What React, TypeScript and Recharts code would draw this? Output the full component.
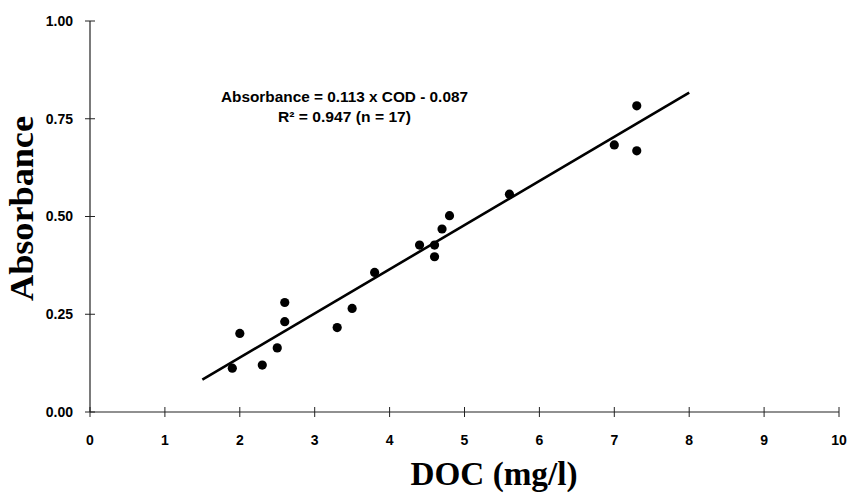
import React from 'react';
import { ScatterChart, Scatter, XAxis, YAxis, ReferenceLine } from 'recharts';

// DOC (mg/l) values of the samples
const docValues = [1.9, 2.0, 2.3, 2.5, 2.6, 2.6, 3.3, 3.5, 3.8, 4.4, 4.6, 4.6, 4.7, 4.8, 5.6, 7.0, 7.3, 7.3];
// Absorbance values of the samples
const absorbanceValues = [0.112, 0.201, 0.12, 0.164, 0.28, 0.231, 0.216, 0.265, 0.357, 0.427, 0.427, 0.397, 0.468, 0.502, 0.557, 0.683, 0.783, 0.668];

const xTicks = [0, 1, 2, 3, 4, 5, 6, 7, 8, 9, 10];
const yTicks = [0, 0.25, 0.5, 0.75, 1.0];

// Regression line as printed on the chart
const slope = 0.113;
const intercept = -0.087;
const fitStart = 1.5;
const fitEnd = 8;

const equationLine1 = 'Absorbance = 0.113 x COD - 0.087';
const equationLine2 = 'R\u00B2 = 0.947 (n = 17)';
const xTitle = 'DOC (mg/l)';
const yTitle = 'Absorbance';

const points = docValues.map((x, i) => ({ x, y: absorbanceValues[i] }));
const fitSegment = [
  { x: fitStart, y: slope * fitStart + intercept },
  { x: fitEnd, y: slope * fitEnd + intercept },
];

const TICK_SIZE = 5;
const X_TICK_MARGIN = 18;
const Y_TICK_MARGIN = 12;
const SANS = '"Liberation Sans", Arial, sans-serif';
const SERIF = '"Liberation Serif", "Times New Roman", serif';
const AXIS_COLOR = '#222';

const XTick = (props: any) => {
  const { x, y, payload } = props;
  const axisY = y - TICK_SIZE - X_TICK_MARGIN;
  return (
    <g>
      <line x1={x} x2={x} y1={axisY - 5} y2={axisY + 5} stroke={AXIS_COLOR} strokeWidth={1} />
      <text x={x} y={y} dy="0.71em" textAnchor="middle" fontFamily={SANS} fontWeight="bold" fontSize={14} fill="#000">
        {payload.value}
      </text>
    </g>
  );
};

const YTick = (props: any) => {
  const { x, y, payload } = props;
  const axisX = x + TICK_SIZE + Y_TICK_MARGIN;
  return (
    <g>
      <line x1={axisX - 5} x2={axisX + 5} y1={y} y2={y} stroke={AXIS_COLOR} strokeWidth={1} />
      <text x={x} y={y} dy="0.355em" textAnchor="end" fontFamily={SANS} fontWeight="bold" fontSize={14} fill="#000">
        {Number(payload.value).toFixed(2)}
      </text>
    </g>
  );
};

const Dot = (props: any) => {
  const { cx, cy } = props;
  return <circle cx={cx} cy={cy} r={4.6} fill="#000" />;
};

export default function App() {
  return (
    <div style={{ position: 'absolute', left: 0, top: 0, width: 848, height: 502, background: '#fff' }}>
      <ScatterChart width={848} height={502} margin={{ top: 21, right: 9, bottom: 0, left: 0 }}>
        <XAxis
          type="number"
          dataKey="x"
          domain={[0, 10]}
          ticks={xTicks}
          interval={0}
          height={90}
          tickSize={TICK_SIZE}
          tickMargin={X_TICK_MARGIN}
          tickLine={false}
          tick={<XTick />}
          axisLine={{ stroke: AXIS_COLOR, strokeWidth: 1.2 }}
        />
        <YAxis
          type="number"
          dataKey="y"
          domain={[0, 1]}
          ticks={yTicks}
          interval={0}
          width={90}
          tickSize={TICK_SIZE}
          tickMargin={Y_TICK_MARGIN}
          tickLine={false}
          tick={<YTick />}
          axisLine={{ stroke: AXIS_COLOR, strokeWidth: 1.2 }}
        />
        <ReferenceLine
          segment={fitSegment}
          stroke="#000"
          strokeWidth={2.6}
          ifOverflow="visible"
        />
        <Scatter data={points} shape={<Dot />} isAnimationActive={false} />
      </ScatterChart>
      <svg
        width={848}
        height={502}
        style={{ position: 'absolute', left: 0, top: 0, pointerEvents: 'none' }}
      >
        <text x={344.5} y={102} textAnchor="middle" fontFamily={SANS} fontWeight="bold" fontSize={14.5} fill="#000" textLength={247} lengthAdjust="spacingAndGlyphs">
          {equationLine1}
        </text>
        <text x={344.5} y={122} textAnchor="middle" fontFamily={SANS} fontWeight="bold" fontSize={14.5} fill="#000" textLength={133} lengthAdjust="spacingAndGlyphs">
          {equationLine2}
        </text>
        <text x={494} y={485} textAnchor="middle" fontFamily={SERIF} fontWeight="bold" fontSize={34} fill="#000" textLength={167} lengthAdjust="spacingAndGlyphs">
          {xTitle}
        </text>
        <text
          x={33}
          y={208.5}
          transform="rotate(-90 33 208.5)"
          textAnchor="middle"
          fontFamily={SERIF}
          fontWeight="bold"
          fontSize={34}
          fill="#000"
          textLength={185}
          lengthAdjust="spacingAndGlyphs"
        >
          {yTitle}
        </text>
      </svg>
    </div>
  );
}
